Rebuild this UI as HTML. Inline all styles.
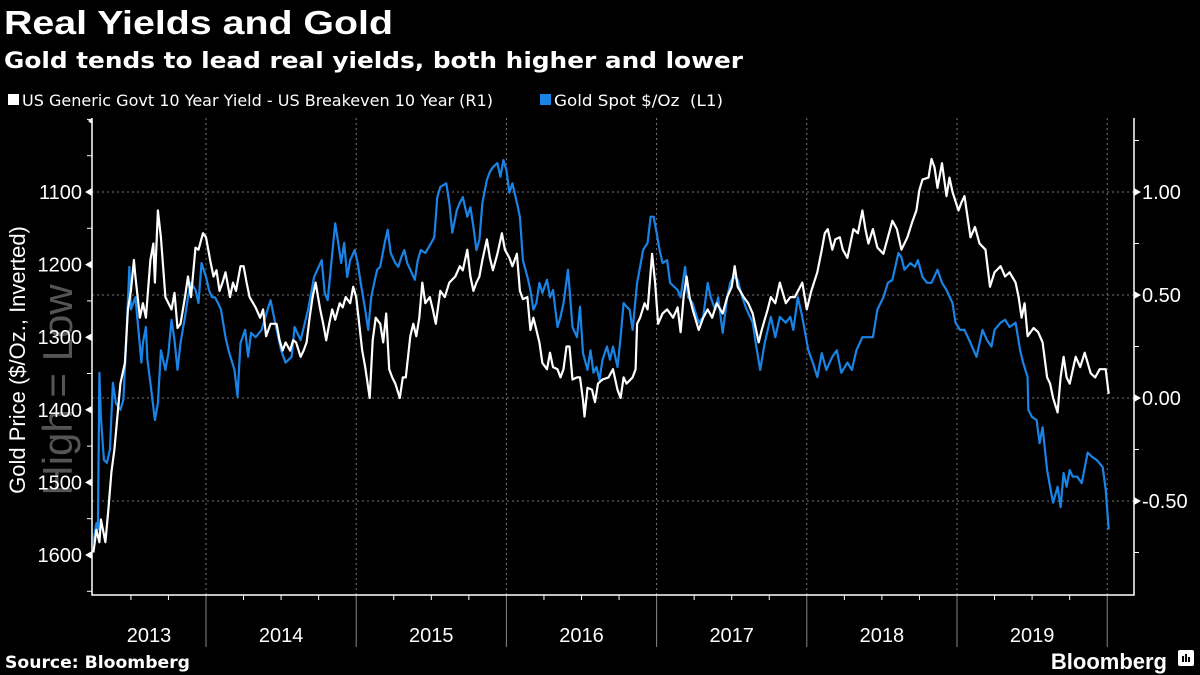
<!DOCTYPE html>
<html><head><meta charset="utf-8">
<style>
html,body{margin:0;padding:0;background:#000;}
svg{display:block;font-family:"Liberation Sans","DejaVu Sans",sans-serif;}
</style></head>
<body>
<svg id="chart" width="1200" height="675" viewBox="0 0 1200 675" xmlns="http://www.w3.org/2000/svg">
<rect x="0" y="0" width="1200" height="675" fill="#000"/>
<text x="4" y="34" fill="#fff" font-size="33" font-weight="bold" textLength="389" lengthAdjust="spacingAndGlyphs">Real Yields and Gold</text>
<text x="4" y="68" fill="#fff" font-size="22" font-weight="bold" font-family="DejaVu Sans, sans-serif" textLength="739" lengthAdjust="spacingAndGlyphs">Gold tends to lead real yields, both higher and lower</text>
<g>
  <g>
    <rect x="8" y="94" width="11" height="11" fill="#fff"/>
    <text x="22" y="106" fill="#fff" font-size="16" font-family="DejaVu Sans, sans-serif" textLength="471" lengthAdjust="spacingAndGlyphs">US Generic Govt 10 Year Yield - US Breakeven 10 Year (R1)</text>
  </g>
  <g>
    <rect x="540" y="94" width="11" height="11" fill="#1a83e6"/>
    <text x="554" y="106" fill="#fff" font-size="16" font-family="DejaVu Sans, sans-serif" xml:space="preserve" textLength="169" lengthAdjust="spacingAndGlyphs">Gold Spot $/Oz  (L1)</text>
  </g>
</g>
<text transform="translate(25,360) rotate(-90)" text-anchor="middle" fill="#fff" font-size="22">Gold Price ($/Oz., Inverted)</text>
<text transform="translate(72,390) rotate(-90)" text-anchor="middle" fill="#555" font-size="42">High = Low</text>
<g id="grid"></g>
<g id="axes"></g>
<g id="series"></g>
<text x="5" y="668" fill="#fff" font-size="17" font-weight="bold" font-family="DejaVu Sans, sans-serif" textLength="185" lengthAdjust="spacingAndGlyphs">Source: Bloomberg</text>
<text x="1167" y="669" text-anchor="end" fill="#fff" font-size="22" font-weight="bold">Bloomberg</text>
<g>
  <rect x="1178" y="650" width="16" height="16" rx="2" fill="#fff"/>
  <rect x="1182" y="656" width="2" height="6" fill="#000"/><rect x="1185" y="654" width="2" height="8" fill="#000"/><rect x="1188" y="657" width="2" height="5" fill="#000"/>
</g>
</svg>
<script>
const goldDates=[2013.25,2013.27,2013.28,2013.29,2013.30,2013.32,2013.34,2013.36,2013.38,2013.40,2013.43,2013.45,2013.47,2013.49,2013.50,2013.53,2013.55,2013.57,2013.58,2013.60,2013.61,2013.63,2013.66,2013.68,2013.70,2013.73,2013.75,2013.77,2013.79,2013.81,2013.83,2013.86,2013.88,2013.90,2013.93,2013.95,2013.97,2014.00,2014.02,2014.04,2014.06,2014.08,2014.10,2014.13,2014.15,2014.19,2014.21,2014.23,2014.26,2014.28,2014.30,2014.33,2014.37,2014.41,2014.43,2014.46,2014.50,2014.53,2014.57,2014.59,2014.63,2014.68,2014.72,2014.77,2014.79,2014.81,2014.86,2014.88,2014.90,2014.92,2014.94,2014.96,2014.99,2015.01,2015.03,2015.06,2015.08,2015.10,2015.12,2015.14,2015.16,2015.19,2015.21,2015.23,2015.26,2015.28,2015.30,2015.32,2015.34,2015.36,2015.39,2015.41,2015.43,2015.46,2015.50,2015.52,2015.54,2015.56,2015.60,2015.62,2015.64,2015.67,2015.69,2015.71,2015.74,2015.76,2015.78,2015.80,2015.82,2015.84,2015.87,2015.89,2015.91,2015.94,2015.96,2015.98,2016.00,2016.02,2016.04,2016.07,2016.09,2016.11,2016.14,2016.16,2016.18,2016.20,2016.22,2016.24,2016.27,2016.29,2016.31,2016.34,2016.36,2016.38,2016.41,2016.44,2016.47,2016.49,2016.51,2016.54,2016.56,2016.58,2016.60,2016.62,2016.64,2016.67,2016.69,2016.71,2016.74,2016.76,2016.78,2016.80,2016.82,2016.84,2016.87,2016.89,2016.91,2016.94,2016.96,2016.98,2017.00,2017.02,2017.04,2017.07,2017.09,2017.14,2017.16,2017.19,2017.21,2017.24,2017.28,2017.31,2017.34,2017.36,2017.39,2017.41,2017.44,2017.47,2017.49,2017.51,2017.54,2017.57,2017.60,2017.64,2017.66,2017.69,2017.72,2017.76,2017.79,2017.82,2017.86,2017.89,2017.91,2017.94,2017.97,2018.01,2018.04,2018.07,2018.10,2018.13,2018.17,2018.20,2018.23,2018.27,2018.30,2018.33,2018.37,2018.40,2018.44,2018.47,2018.51,2018.54,2018.57,2018.61,2018.63,2018.65,2018.69,2018.72,2018.74,2018.77,2018.80,2018.83,2018.87,2018.90,2018.93,2018.97,2018.99,2019.02,2019.05,2019.09,2019.13,2019.17,2019.20,2019.23,2019.25,2019.29,2019.32,2019.35,2019.39,2019.42,2019.44,2019.47,2019.475,2019.50,2019.53,2019.55,2019.57,2019.60,2019.62,2019.64,2019.67,2019.69,2019.71,2019.73,2019.75,2019.77,2019.80,2019.83,2019.87,2019.90,2019.93,2019.97,2019.99,2020.01];
const goldValues=[1583,1556,1565,1349,1410,1469,1473,1455,1363,1391,1400,1386,1300,1203,1262,1245,1290,1335,1308,1286,1331,1363,1414,1391,1318,1345,1322,1276,1304,1345,1308,1272,1245,1225,1235,1253,1198,1217,1235,1245,1245,1253,1262,1300,1318,1345,1382,1308,1290,1327,1294,1300,1290,1262,1249,1280,1318,1335,1327,1286,1304,1262,1217,1194,1239,1249,1143,1170,1198,1170,1217,1194,1180,1198,1225,1262,1290,1245,1225,1207,1203,1170,1152,1184,1198,1203,1190,1180,1198,1207,1221,1194,1180,1184,1170,1162,1107,1093,1088,1115,1156,1125,1115,1107,1134,1121,1148,1180,1166,1115,1083,1072,1066,1060,1079,1056,1070,1101,1088,1115,1134,1194,1217,1235,1262,1253,1225,1239,1221,1245,1235,1286,1272,1253,1207,1286,1300,1258,1322,1345,1318,1349,1341,1359,1331,1313,1331,1313,1341,1300,1253,1258,1262,1290,1225,1203,1180,1170,1134,1134,1156,1180,1198,1194,1225,1235,1245,1203,1245,1253,1280,1272,1225,1245,1262,1245,1294,1245,1225,1217,1221,1245,1262,1280,1308,1345,1308,1272,1300,1272,1280,1272,1290,1245,1272,1318,1335,1355,1322,1345,1327,1318,1349,1335,1345,1318,1300,1300,1300,1262,1245,1225,1221,1184,1190,1207,1198,1203,1194,1217,1225,1225,1207,1225,1235,1253,1280,1290,1290,1308,1327,1290,1304,1313,1290,1280,1276,1286,1280,1318,1335,1355,1400,1410,1414,1446,1424,1483,1506,1528,1506,1534,1487,1506,1483,1492,1492,1501,1459,1465,1469,1479,1510,1565];
const yieldDates=[2013.25,2013.27,2013.29,2013.30,2013.33,2013.35,2013.37,2013.39,2013.41,2013.43,2013.46,2013.48,2013.50,2013.52,2013.53,2013.56,2013.58,2013.60,2013.63,2013.65,2013.66,2013.68,2013.70,2013.73,2013.75,2013.77,2013.79,2013.81,2013.83,2013.86,2013.88,2013.90,2013.93,2013.95,2013.98,2014.00,2014.03,2014.05,2014.07,2014.09,2014.11,2014.13,2014.16,2014.18,2014.20,2014.23,2014.25,2014.27,2014.29,2014.33,2014.36,2014.38,2014.40,2014.43,2014.47,2014.49,2014.51,2014.53,2014.56,2014.58,2014.60,2014.63,2014.65,2014.67,2014.69,2014.71,2014.73,2014.76,2014.78,2014.80,2014.82,2014.84,2014.86,2014.89,2014.91,2014.93,2014.96,2014.98,2015.00,2015.02,2015.04,2015.06,2015.09,2015.11,2015.13,2015.16,2015.18,2015.20,2015.22,2015.24,2015.26,2015.29,2015.31,2015.33,2015.36,2015.38,2015.40,2015.42,2015.44,2015.46,2015.49,2015.51,2015.53,2015.56,2015.59,2015.62,2015.66,2015.69,2015.71,2015.74,2015.76,2015.78,2015.80,2015.82,2015.84,2015.87,2015.89,2015.91,2015.94,2015.97,2015.99,2016.02,2016.04,2016.07,2016.09,2016.11,2016.14,2016.16,2016.18,2016.20,2016.22,2016.24,2016.27,2016.29,2016.31,2016.34,2016.36,2016.38,2016.40,2016.42,2016.44,2016.47,2016.49,2016.51,2016.52,2016.54,2016.57,2016.59,2016.61,2016.64,2016.68,2016.71,2016.74,2016.76,2016.78,2016.80,2016.84,2016.86,2016.87,2016.89,2016.92,2016.94,2016.97,2016.99,2017.01,2017.04,2017.07,2017.09,2017.11,2017.14,2017.16,2017.18,2017.20,2017.22,2017.24,2017.28,2017.31,2017.34,2017.37,2017.40,2017.44,2017.47,2017.50,2017.52,2017.54,2017.58,2017.61,2017.64,2017.68,2017.70,2017.74,2017.76,2017.79,2017.82,2017.86,2017.89,2017.92,2017.97,2018.00,2018.03,2018.07,2018.10,2018.12,2018.14,2018.17,2018.19,2018.22,2018.24,2018.27,2018.31,2018.34,2018.37,2018.39,2018.41,2018.44,2018.47,2018.51,2018.54,2018.57,2018.60,2018.63,2018.67,2018.70,2018.73,2018.75,2018.77,2018.81,2018.83,2018.85,2018.87,2018.90,2018.93,2018.95,2018.97,2019.01,2019.03,2019.05,2019.09,2019.12,2019.15,2019.19,2019.22,2019.25,2019.29,2019.32,2019.35,2019.39,2019.41,2019.43,2019.45,2019.47,2019.51,2019.54,2019.57,2019.60,2019.62,2019.64,2019.67,2019.69,2019.71,2019.73,2019.75,2019.79,2019.82,2019.85,2019.89,2019.92,2019.95,2019.99,2020.01];
const yieldValues=[-0.75,-0.64,-0.70,-0.59,-0.70,-0.54,-0.36,-0.25,-0.09,0.07,0.17,0.43,0.52,0.67,0.59,0.39,0.46,0.39,0.67,0.75,0.56,0.91,0.78,0.49,0.46,0.43,0.51,0.34,0.36,0.49,0.59,0.49,0.73,0.72,0.80,0.78,0.66,0.59,0.62,0.52,0.56,0.61,0.49,0.56,0.52,0.64,0.64,0.56,0.49,0.44,0.39,0.43,0.30,0.36,0.36,0.28,0.23,0.27,0.23,0.28,0.27,0.20,0.23,0.27,0.39,0.49,0.56,0.43,0.36,0.28,0.36,0.43,0.38,0.46,0.44,0.49,0.46,0.54,0.49,0.36,0.23,0.15,0.00,0.28,0.39,0.36,0.27,0.41,0.14,0.10,0.07,0.00,0.10,0.10,0.30,0.36,0.30,0.39,0.56,0.46,0.49,0.43,0.36,0.52,0.49,0.56,0.59,0.64,0.62,0.72,0.59,0.52,0.56,0.59,0.67,0.77,0.68,0.62,0.70,0.80,0.72,0.68,0.64,0.70,0.52,0.48,0.49,0.33,0.39,0.33,0.27,0.17,0.14,0.22,0.15,0.14,0.10,0.14,0.25,0.25,0.09,0.10,0.10,-0.01,-0.09,0.05,0.04,-0.02,0.07,0.09,0.10,0.14,0.04,0.00,0.10,0.07,0.10,0.14,0.36,0.39,0.46,0.43,0.70,0.56,0.36,0.41,0.43,0.41,0.39,0.44,0.32,0.49,0.59,0.49,0.43,0.33,0.39,0.43,0.39,0.46,0.41,0.49,0.54,0.64,0.54,0.49,0.46,0.41,0.27,0.33,0.43,0.49,0.46,0.56,0.46,0.49,0.49,0.56,0.43,0.52,0.61,0.72,0.80,0.82,0.72,0.77,0.78,0.72,0.68,0.82,0.80,0.91,0.82,0.75,0.82,0.73,0.70,0.78,0.86,0.82,0.72,0.78,0.85,0.91,1.01,1.06,1.07,1.16,1.12,1.02,1.14,0.98,1.07,1.00,0.91,0.95,0.98,0.78,0.83,0.75,0.72,0.54,0.61,0.64,0.59,0.61,0.56,0.49,0.39,0.46,0.30,0.34,0.32,0.27,0.10,0.07,0.00,-0.07,0.10,0.20,0.10,0.07,0.20,0.15,0.22,0.12,0.10,0.14,0.14,0.02];
const goldTicks=[1100,1200,1300,1400,1500,1600];
const yieldTicks=[1.00,0.50,0.00,-0.50];
const yieldTickLabels=["1.00","0.50","0.00","-0.50"];
const yearLabels=["2013","2014","2015","2016","2017","2018","2019"];

const NS="http://www.w3.org/2000/svg";
const L=92,R=1134,T=118,B=595;
function xS(t){return 206+(t-2014)*150.2;}
function yGold(v){return 192+(v-1100)*0.726;}
function yYield(v){return 398-v*206;}
function mk(tag,attrs,parent){const e=document.createElementNS(NS,tag);for(const k in attrs)e.setAttribute(k,attrs[k]);parent.appendChild(e);return e;}
const grid=document.getElementById('grid'),axes=document.getElementById('axes'),series=document.getElementById('series');

yieldTicks.forEach((v,i)=>{
  const y=yYield(v);
  const g=mk('line',{x1:L,x2:R,y1:y,y2:y,stroke:'#777','stroke-width':1,'stroke-dasharray':'2,3'},grid);
  
  
  const tr=mk('path',{d:`M${R} ${y-4}L${R+7} ${y}L${R} ${y+4}Z`,fill:'#fff'},axes);
  
  
  const t=mk('text',{x:R+8,y:y+7,fill:'#fff','font-size':20},axes);
  t.textContent=yieldTickLabels[i];
  
  
});
for(let v=1.25;v>=-0.76;v-=0.25){const y=yYield(v);mk('line',{x1:R,x2:R+5,y1:y,y2:y,stroke:'#fff'},axes);}
for(let v=1000;v<=1650;v+=50){const y=yGold(v);if(y<T||y>B)continue;mk('line',{x1:L-5,x2:L,y1:y,y2:y,stroke:'#fff'},axes);}
goldTicks.forEach(v=>{
  const y=yGold(v);
  const tr=mk('path',{d:`M${L} ${y-4}L${L-7} ${y}L${L} ${y+4}Z`,fill:'#fff'},axes);
  
  
  const t=mk('text',{x:L-10,y:y+7,fill:'#fff','font-size':20,'text-anchor':'end'},axes);
  t.textContent=String(v);
  
  
});
mk('path',{d:`M${L-4} ${T+3}L${L} ${T}L${L} ${T+6}Z`,fill:'#fff'},axes);
for(let yr=2014;yr<=2020;yr++){
  const x=xS(yr);
  const g=mk('line',{x1:x,x2:x,y1:T,y2:B,stroke:'#777','stroke-dasharray':'2,3'},grid);
  
  
  const s=mk('line',{x1:x,x2:x,y1:B,y2:647,stroke:'#888'},axes);
  
  
}
for(let q=2013.5;q<2020;q+=0.25){if(Math.abs(q-Math.round(q))<0.01)continue;const x=xS(q);if(x<L)continue;mk('line',{x1:x,x2:x,y1:B,y2:B+5,stroke:'#fff'},axes);}
yearLabels.forEach((lab,i)=>{
  const yr=+lab;
  const x0=Math.max(L,xS(yr)),x1=xS(yr+1);
  const t=mk('text',{x:(x0+x1)/2,y:642,fill:'#fff','font-size':20,'text-anchor':'middle'},axes);
  t.textContent=lab;
  
  
});
const ax=mk('path',{d:`M${L} ${T}L${L} ${B}L${R} ${B}L${R} ${T}`,fill:'none',stroke:'#fff','stroke-width':1.5},axes);



function line(dates,vals,yf){return dates.map((d,i)=>(i?'L':'M')+xS(d).toFixed(1)+' '+yf(vals[i]).toFixed(1)).join('');}
const gl=mk('path',{d:line(goldDates,goldValues,yGold),fill:'none',stroke:'#1a83e6','stroke-width':2.2,'stroke-linejoin':'round'},series);


const yl=mk('path',{d:line(yieldDates,yieldValues,yYield),fill:'none',stroke:'#fff','stroke-width':2.2,'stroke-linejoin':'round'},series);


</script>
</body></html>
